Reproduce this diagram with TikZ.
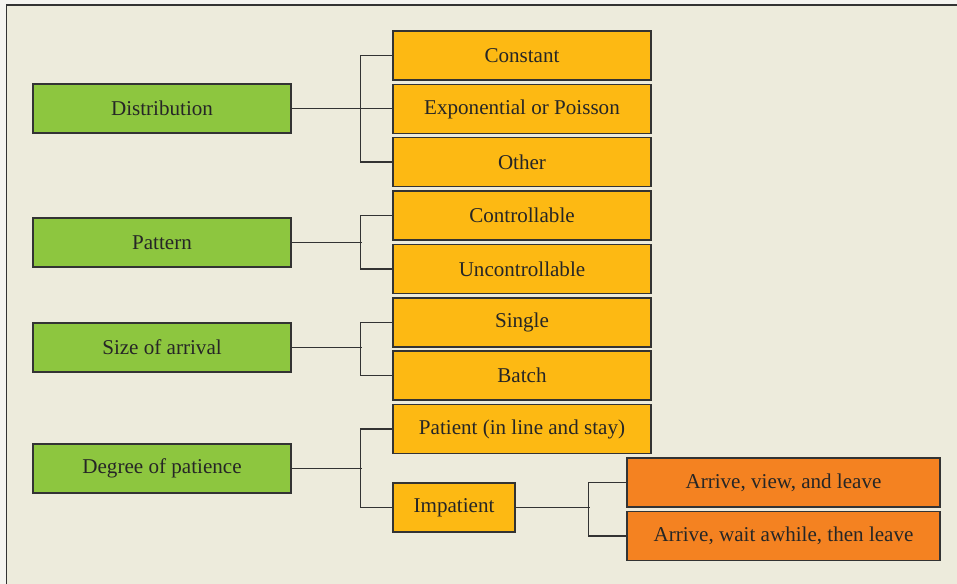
\documentclass[tikz,border=0pt]{standalone}
\usepackage{fontspec}
\setmainfont{Liberation Serif}
\definecolor{PanelBg}{RGB}{237,235,220}
\definecolor{PageBg}{RGB}{245,244,240}
\definecolor{LeafGreen}{RGB}{141,198,63}
\definecolor{AmberBox}{RGB}{253,185,19}
\definecolor{DeepOrange}{RGB}{244,130,33}
\definecolor{LineGray}{RGB}{51,51,51}
\usetikzlibrary{positioning}

\begin{document}
\begin{tikzpicture}[x=0.02cm, y=-0.02cm,
    box/.style={draw=LineGray, line width=0.7pt, font=\fontsize{12}{14}\selectfont,
      text=black!85, minimum height=0.98cm, inner sep=0pt},
    catbox/.style={box, fill=LeafGreen, minimum width=5.16cm},
    optbox/.style={box, fill=AmberBox, minimum width=5.16cm},
    subbox/.style={box, fill=DeepOrange, minimum width=6.26cm},
    link/.style={draw=LineGray, line width=0.6pt}]
    \useasboundingbox (0,0) rectangle (957,584);
    \fill[PageBg] (0,0) rectangle (957,584);
    \draw[fill=PanelBg, draw=LineGray, line width=0.8pt] (6.5,5) rectangle (975,600);

    % Categories
    \node[catbox] (dist) at (162,108.5) {Distribution};
    \node[catbox] (patt) at (162,242.5) {Pattern};
    \node[catbox] (size) at (162,347.5) {Size of arrival};
    \node[catbox] (pati) at (162,468.5) {Degree of patience};

    % Options
    \node[optbox] (const) at (522,55.5) {Constant};
    \node[optbox] (expo) at (522,109) {Exponential or Poisson};
    \node[optbox] (other) at (522,162) {Other};
    \node[optbox] (ctrl) at (522,215.5) {Controllable};
    \node[optbox] (unctrl) at (522,269) {Uncontrollable};
    \node[optbox] (single) at (522,322.5) {Single};
    \node[optbox] (batch) at (522,375.5) {Batch};
    \node[optbox] (stay) at (522,429) {Patient (in line and stay)};
    \node[optbox, minimum width=2.44cm] (impat) at (454,507.5) {Impatient};

    % Impatient outcomes
    \node[subbox] (view) at (783.5,482.5) {Arrive, view, and leave};
    \node[subbox] (wait) at (783.5,536) {Arrive, wait awhile, then leave};

    % Connectors
    \draw[link] (dist.east) -- (dist.east -| expo.west);
    \draw[link] (const.west) -- ++(-32,0) |- (other.west);
    \draw[link] (patt.east) -- ++(70,0);
    \draw[link] (ctrl.west) -- ++(-32,0) |- (unctrl.west);
    \draw[link] (size.east) -- ++(70,0);
    \draw[link] (single.west) -- ++(-32,0) |- (batch.west);
    \draw[link] (pati.east) -- ++(70,0);
    \draw[link] (stay.west) -- ++(-32,0) |- (impat.west);
    \draw[link] (impat.east) -- ++(74,0);
    \draw[link] (view.west) -- ++(-38,0) |- (wait.west);
\end{tikzpicture}
\end{document}
